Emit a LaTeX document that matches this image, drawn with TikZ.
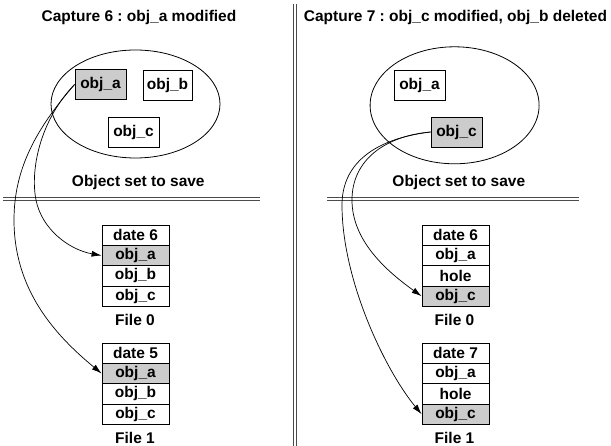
\documentclass[tikz,border=0pt]{standalone}
\usepackage{fontspec}
\setmainfont{Liberation Sans}
\usetikzlibrary{arrows.meta,shapes.geometric}
\frenchspacing
\begin{document}
\begin{tikzpicture}[x=1pt,y=-1pt,
  every node/.style={font=\fontsize{15.5}{18}\selectfont\bfseries, inner sep=0pt},
  obj/.style={draw, line width=0.8pt, minimum width=51, minimum height=30},
  hl/.style={fill=black!20},
  cell/.style={draw, line width=0.8pt, minimum width=67, minimum height=20.33},
  setel/.style={draw, ellipse, line width=0.8pt, inner sep=0pt},
  sep/.style={line width=0.8pt, black!70},
  link/.style={line width=0.7pt, -{Latex[length=10pt,width=6pt]}}
]
\useasboundingbox (0,0) rectangle (611,446);

% separators
\draw[sep] (293.5,4) -- (293.5,446);
\draw[sep] (296.5,4) -- (296.5,446);
\draw[sep] (3,197) -- (260,197);
\draw[sep] (3,200.5) -- (260,200.5);
\draw[sep] (327,197) -- (579,197);
\draw[sep] (327,200.5) -- (579,200.5);

% titles
\node (capL) at (139,17.5) {Capture 6 : obj\_a modified};
\node (capR) at (455.5,17.5) {Capture 7 : obj\_c modified, obj\_b deleted};

% left object set
\node[setel, minimum width=169, minimum height=108] (setL) at (135.5,104) {};
\node[obj,hl] (oaL) at (100.5,84.5) {obj\_a};
\node[obj, minimum width=49] (obL) at (167.5,85.5) {obj\_b};
\node[obj] (ocL) at (133.5,132) {obj\_c};
\node (lblL) at (138.3,182) {Object set to save};

% right object set
\node[setel, minimum width=169, minimum height=117] (setR) at (454.6,105.3) {};
\node[obj] (oaR) at (419.5,85) {obj\_a};
\node[obj,hl] (ocR) at (456.5,132) {obj\_c};
\node (lblR) at (458.8,182) {Object set to save};

% left files
\node[cell] (L0d) at (135.5,235.2) {date 6};
\node[cell,hl] (L0a) at (135.5,255.5) {obj\_a};
\node[cell] (L0b) at (135.5,275.8) {obj\_b};
\node[cell] (L0c) at (135.5,296.2) {obj\_c};
\node (L0f) at (135,320) {File 0};
\node[cell] (L1d) at (135.5,353.2) {date 5};
\node[cell,hl] (L1a) at (135.5,373.5) {obj\_a};
\node[cell] (L1b) at (135.5,393.8) {obj\_b};
\node[cell] (L1c) at (135.5,414.2) {obj\_c};
\node (L1f) at (135,437.5) {File 1};

% right files
\node[cell] (R0d) at (455.5,235.2) {date 6};
\node[cell] (R0a) at (455.5,255.5) {obj\_a};
\node[cell] (R0h) at (455.5,275.8) {hole};
\node[cell,hl] (R0c) at (455.5,296.2) {obj\_c};
\node (R0f) at (454.5,320) {File 0};
\node[cell] (R1d) at (455.5,353.2) {date 7};
\node[cell] (R1a) at (455.5,373.5) {obj\_a};
\node[cell] (R1h) at (455.5,393.8) {hole};
\node[cell,hl] (R1c) at (455.5,414.2) {obj\_c};
\node (R1f) at (454.5,437.5) {File 1};

% links
\draw[link] (oaL.west) .. controls (40,120) and (30,170) .. (36,200)
  .. controls (42,230) and (70,250) .. (L0a.west);
\draw[link] (oaL.west) .. controls (35,130) and (14,170) .. (14,220)
  .. controls (14,290) and (55,335) .. (L1a.west);
\draw[link] (ocR.west) .. controls (385,136) and (352,160) .. (352,200)
  .. controls (352,240) and (385,270) .. (R0c.west);
\draw[link] (ocR.west) .. controls (380,138) and (342,160) .. (342,205)
  .. controls (342,280) and (385,370) .. (R1c.west);
\end{tikzpicture}
\end{document}
